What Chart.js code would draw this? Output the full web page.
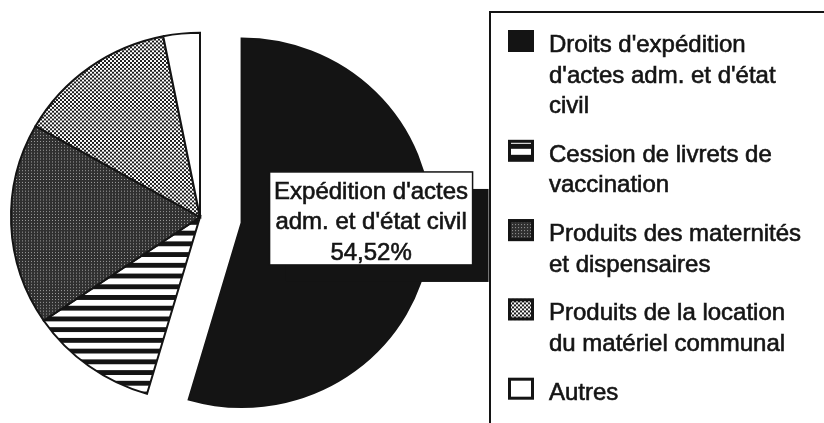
<!DOCTYPE html>
<html lang="fr">
<head>
<meta charset="utf-8">
<title>Répartition des recettes</title>
<script src="https://cdn.jsdelivr.net/npm/chart.js@4.4.0/dist/chart.umd.min.js"></script>
<style>
  html, body { margin: 0; padding: 0; background: #fff; }
  #wrap { width: 824px; height: 423px; position: relative; }
</style>
</head>
<body>
<div id="wrap"><canvas id="pieChart"></canvas></div>
<script>
// ==========================================
// DATA
// ==========================================

const categories = [
    ["Droits d'expédition", "d'actes adm. et d'état", "civil"],
    ["Cession de livrets de", "vaccination"],
    ["Produits des maternités", "et dispensaires"],
    ["Produits de la location", "du matériel communal"],
    ["Autres"]
];
const shares = [54.52, 10.97, 17.72, 13.67, 3.12];
const fills = ['solid', 'stripes', 'dots', 'checker', 'white'];
const calloutText = ["Expédition d'actes", "adm. et d'état civil"];

const INK = '#141414';
const FONT = '"Liberation Sans", Arial, Helvetica, sans-serif';
const EXPLODE = [42, 0, 0, 0, 0];   // px the slice is pulled out
const SQUASH = 0.975;               // original pie is a touch flatter than round

// ==========================================
// FILL PATTERNS (bitmap look of the original)
// ==========================================

function makeFill(kind) {
    if (kind === 'solid') return INK;
    if (kind === 'white') return '#ffffff';

    const c = document.createElement('canvas');
    const g = c.getContext('2d');
    if (kind === 'stripes') {
        c.width = 8; c.height = 11;
        g.fillStyle = '#fff'; g.fillRect(0, 0, 8, 11);
        g.fillStyle = INK; g.fillRect(0, 0, 8, 5);
    } else if (kind === 'dots') {
        c.width = 3; c.height = 3;
        g.fillStyle = '#303030'; g.fillRect(0, 0, 3, 3);
        g.fillStyle = '#a0a0a0'; g.fillRect(1, 1, 1, 1);
    } else if (kind === 'checker') {
        c.width = 4; c.height = 4;
        g.fillStyle = '#fff'; g.fillRect(0, 0, 4, 4);
        g.fillStyle = '#1c1c1c'; g.fillRect(0, 0, 2, 2); g.fillRect(2, 2, 2, 2);
    }
    return g.createPattern(c, 'repeat');
}

const fillStyles = fills.map(makeFill);

function heavyText(ctx, t, x, y) {
    // scanned print looks heavier than a plain regular weight
    ctx.strokeText(t, x, y);
    ctx.fillText(t, x, y);
}

// ==========================================
// EXPLODED SLICE + SLIGHT SQUASH
// ==========================================

const explodePlugin = {
    id: 'explode',
    beforeDatasetsDraw(chart) {
        const meta = chart.getDatasetMeta(0);
        meta.data.forEach((arc, i) => {
            const dist = EXPLODE[i];
            if (!dist || arc.$exploded) return;
            const draw = arc.draw;
            arc.draw = function (ctx) {
                const mid = (this.startAngle + this.endAngle) / 2;
                ctx.save();
                ctx.translate(Math.cos(mid) * dist, Math.sin(mid) * dist);
                draw.call(this, ctx);
                ctx.restore();
            };
            arc.$exploded = true;
        });
        const { x, y } = meta.data[0];
        const ctx = chart.ctx;
        ctx.save();
        ctx.translate(x, y);
        ctx.scale(1, SQUASH);
        ctx.translate(-x, -y);
    },
    afterDatasetsDraw(chart) {
        chart.ctx.restore();
    }
};

// ==========================================
// CALLOUT ON THE BIG SLICE
// ==========================================

const calloutPlugin = {
    id: 'callout',
    afterDatasetsDraw(chart) {
        const arc = chart.getDatasetMeta(0).data[0];
        const mid = (arc.startAngle + arc.endAngle) / 2;
        const cx = arc.x + Math.cos(mid) * EXPLODE[0];
        const cy = arc.y + Math.sin(mid) * EXPLODE[0];

        const x = cx + 28, y = cy - 51, w = 203, h = 93;
        const ctx = chart.ctx;
        ctx.save();
        // drop shadow
        ctx.fillStyle = INK;
        ctx.fillRect(x + 16, y + 17, w, h);
        ctx.fillStyle = '#fff';
        ctx.fillRect(x, y, w, h);
        ctx.strokeStyle = INK;
        ctx.lineWidth = 1.5;
        ctx.strokeRect(x, y, w, h);

        const lines = calloutText.concat([shares[0].toFixed(2).replace('.', ',') + '%']);
        ctx.fillStyle = INK;
        ctx.lineWidth = 0.6;
        ctx.font = '24px ' + FONT;
        ctx.textAlign = 'center';
        ctx.textBaseline = 'alphabetic';
        lines.forEach((t, i) => heavyText(ctx, t, x + w / 2, y + 27 + i * 30.5));
        ctx.restore();
    }
};

// ==========================================
// LEGEND BOX (right side)
// ==========================================

const legendPlugin = {
    id: 'boxLegend',
    afterDraw(chart) {
        const ctx = chart.ctx;
        const left = 490, top = 12;
        ctx.save();
        ctx.strokeStyle = INK;
        ctx.lineWidth = 2;
        ctx.beginPath();
        ctx.moveTo(left, chart.height + 2);
        ctx.lineTo(left, top);
        ctx.lineTo(chart.width + 2, top);
        ctx.stroke();

        ctx.font = '24px ' + FONT;
        ctx.textAlign = 'left';
        ctx.textBaseline = 'alphabetic';

        let base = 52;
        chart.data.labels.forEach((lines, i) => {
            const sx = 508, sy = base - 22, sw = 26, sh = 22;
            ctx.save();
            ctx.translate(sx, sy + 4);
            ctx.fillStyle = fillStyles[i];
            ctx.fillRect(0, -4, sw, sh);
            ctx.restore();
            ctx.lineWidth = 3;
            ctx.strokeStyle = INK;
            ctx.strokeRect(sx + 1.5, sy + 1.5, sw - 3, sh - 3);

            ctx.fillStyle = INK;
            ctx.lineWidth = 0.6;
            lines.forEach((t, j) => heavyText(ctx, t, 549, base + j * 30.5));
            base += lines.length * 30.5 + 18.3;
        });
        ctx.restore();
    }
};

// ==========================================
// PIE CHART
// ==========================================

function initPieChart() {
    const el = document.getElementById('pieChart');
    new Chart(el, {
        type: 'pie',
        data: {
            labels: categories,
            datasets: [{
                data: shares,
                backgroundColor: fillStyles,
                borderColor: INK,
                borderWidth: 2,
                borderJoinStyle: 'miter',
                radius: 189
            }]
        },
        options: {
            responsive: true,
            maintainAspectRatio: false,
            animation: false,
            layout: { padding: { left: 0, top: 11, right: 424, bottom: 0 } },
            plugins: {
                legend: { display: false },
                tooltip: { enabled: false }
            }
        },
        plugins: [explodePlugin, calloutPlugin, legendPlugin]
    });
}

document.addEventListener('DOMContentLoaded', initPieChart);
</script>
</body>
</html>
